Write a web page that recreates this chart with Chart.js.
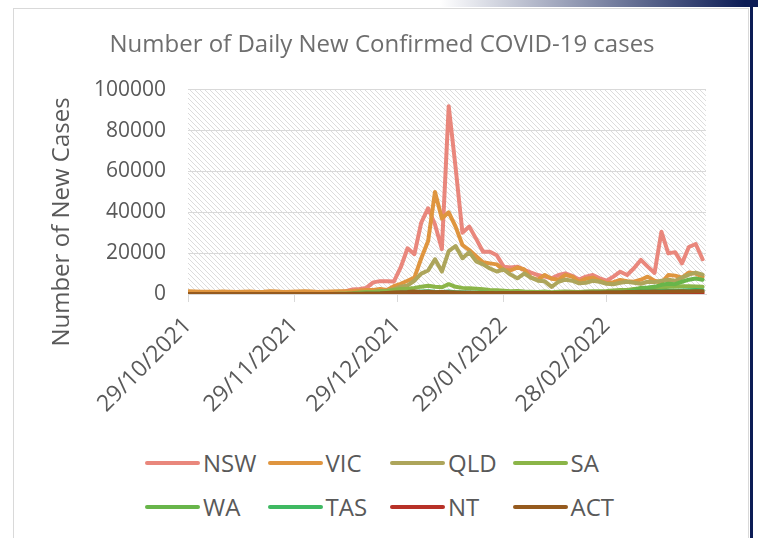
<!DOCTYPE html>
<html>
<head>
<meta charset="utf-8">
<script src="https://cdn.jsdelivr.net/npm/chart.js@4.4.1/dist/chart.umd.min.js"></script>
<style>
  html, body { margin: 0; padding: 0; background: #fff; }
  body { width: 758px; height: 538px; position: relative; overflow: hidden; font-family: "Open Sans", sans-serif; }
  .topbar { position: absolute; left: 0; top: 0; width: 758px; height: 7px;
            background: linear-gradient(to right, #fff 0px, #fff 440px, #0c1c55 745px); }
  .edge { position: absolute; left: 750px; top: 0; width: 3px; height: 538px; background: #0c1c55; }
  .card { position: absolute; left: 13px; top: 8px; width: 736px; height: 540px;
          border: 1px solid #d9d9d9; border-bottom: none; box-sizing: border-box; }
  #wrap { position: absolute; left: 0; top: 0; width: 758px; height: 430px; }
  #legend { position: absolute; left: 145px; top: 441px; display: grid;
            grid-template-columns: repeat(4, 122.5px); grid-auto-rows: 44px; }
  #legend .item { display: flex; align-items: center; }
  #legend .swatch { display: inline-block; width: 55px; height: 4px; border-radius: 2px; margin-right: 3px; }
  #legend .text { font-size: 24px; color: #595959; line-height: 1; }
</style>
</head>
<body>
<div class="topbar"></div>
<div class="card"></div>
<div class="edge"></div>
<div id="wrap"><canvas id="myChart" width="758" height="430"></canvas></div>
<div id="legend"></div>
<script>
// days since 29/10/2021, one reading every second day
const days = [0,2,4,6,8,10,12,14,16,18,20,22,24,26,28,30,32,34,36,38,
  40,42,44,46,48,50,52,54,56,58,60,62,64,66,68,70,72,74,76,78,
  80,82,84,86,88,90,92,94,96,98,100,102,104,106,108,110,112,114,116,118,
  120,122,124,126,128,130,132,134,136,138,140,142,144,146,148,150];

const tickDays = [0, 31, 61, 92, 122];
const tickLabels = ['29/10/2021', '29/11/2021', '29/12/2021', '29/01/2022', '28/02/2022'];

const states = ['NSW', 'VIC', 'QLD', 'SA', 'WA', 'TAS', 'NT', 'ACT'];
const colors = ['#e9877c', '#df953f', '#ada55b', '#8bb548', '#68b54a', '#3fb962', '#b73127', '#955a1e'];

const nsw = [270,250,290,260,200,230,220,180,200,190,
  250,230,180,270,250,200,260,240,300,280,
  350,500,800,1400,2200,2500,3000,5700,6300,6300,
  6100,13000,22400,19500,35000,42000,34000,22000,92000,62000,
  30000,33000,27000,20700,20700,19000,13400,13000,13400,11800,
  10500,9300,8500,7700,9300,10100,8900,7100,8500,9300,
  7700,6500,8500,10900,9300,12600,16700,13400,10300,30500,
  19900,20500,15000,23000,24500,17000];
const vic = [1350,1200,1100,1100,1000,1200,1100,1000,1100,1200,
  1000,1100,1300,1200,1000,1100,1200,1300,1200,1000,
  1100,1200,1300,1400,1500,1700,2000,2000,2500,2000,
  3800,5000,6500,8000,17500,26000,50000,37000,40000,33000,
  24000,21500,18500,15500,15000,14500,11800,11500,13000,12000,
  8000,7000,9300,7500,7000,9300,8500,6000,7500,8000,
  6500,5300,5800,6900,6300,6000,7000,8500,6500,5500,
  9300,9000,8000,10500,10000,8500];
const qld = [0,0,5,0,0,5,0,0,0,5,
  0,5,0,5,10,0,5,10,5,10,
  10,20,80,150,300,600,800,1000,1500,1600,
  2300,3600,4200,6500,10000,11500,17000,11000,21000,23500,
  17500,20500,16000,14500,12500,11000,12000,9500,7700,10000,
  8000,6500,6200,3500,6000,7000,6500,5200,5500,6500,
  6000,5000,4800,5500,6000,5500,5000,6000,5800,6500,
  7000,6500,8000,9500,10500,9500];
const sa = [0,0,0,0,0,0,0,0,0,0,
  0,0,5,0,0,5,0,5,10,10,
  30,50,100,200,400,700,1000,1000,1300,1500,
  2000,2500,2600,3000,3600,4000,3500,3300,4800,3500,
  3000,2800,2600,2300,2000,1800,1600,1300,1500,1200,
  1100,1000,1200,900,1100,1200,1100,1000,1200,1300,
  1400,1500,1700,1900,2000,2500,2700,2600,2900,3100,
  3500,3600,3800,3800,3700,3500];
const wa = [0,0,0,0,0,0,0,0,0,0,
  0,0,0,0,0,0,0,0,0,0,
  0,0,0,0,0,0,0,0,0,0,
  0,0,5,0,0,5,0,5,0,5,
  5,5,10,5,10,10,10,10,10,20,
  20,30,40,50,60,90,100,150,200,300,
  450,600,900,1000,1200,2000,3000,3200,3500,4500,
  5000,4800,6000,7000,7600,7000];
const tas = [0,0,0,0,0,0,0,0,0,0,
  0,0,0,0,0,0,0,0,0,0,
  0,0,0,10,20,50,100,150,200,300,
  500,700,900,1000,1200,1300,1100,1000,1200,900,
  800,700,650,600,550,500,450,500,400,450,
  400,350,400,450,400,500,550,500,600,650,
  700,750,800,900,1000,1100,1200,1300,1400,1500,
  1600,1500,1700,1800,1900,1800];
const nt = [0,0,0,0,5,10,5,20,30,10,
  5,5,0,0,0,0,5,0,0,0,
  0,0,0,0,0,5,10,10,10,20,
  40,80,150,300,400,500,600,550,600,500,
  450,400,450,350,400,300,350,400,350,400,
  450,400,350,400,500,450,400,450,400,350,
  400,450,500,450,400,500,550,500,450,500,
  550,500,600,550,500,550];
const act = [20,15,10,20,25,15,10,20,15,10,
  15,10,20,15,10,20,15,20,25,30,
  30,30,50,60,80,150,200,300,350,500,
  700,900,1000,1200,1000,1100,900,1000,800,700,
  650,600,550,500,450,400,450,400,350,400,
  450,400,500,550,500,600,650,600,700,750,
  700,800,900,850,950,1000,1100,1050,1200,1100,
  1250,1200,1300,1250,1350,1300];

const series = [nsw, vic, qld, sa, wa, tas, nt, act];
const grey = '#595959';
const fontFamily = '"Open Sans", sans-serif';

// small diagonal hatch tile for the plot area
const tile = document.createElement('canvas');
tile.width = 5; tile.height = 5;
const tg = tile.getContext('2d');
tg.fillStyle = '#dcdcdc';
for (let i = 0; i < 5; i++) tg.fillRect(i, i, 1, 1);

const plotBack = {
  id: 'plotBack',
  beforeDraw(chart) {
    const { ctx, chartArea: a } = chart;
    ctx.save();
    ctx.fillStyle = ctx.createPattern(tile, 'repeat');
    ctx.fillRect(a.left, a.top, a.right - a.left, a.bottom - a.top);
    ctx.restore();
  }
};

const yTitle = {
  id: 'yTitle',
  afterDraw(chart) {
    const ctx = chart.ctx;
    ctx.save();
    ctx.translate(62, 222);
    ctx.rotate(-Math.PI / 2);
    ctx.font = '24px ' + fontFamily;
    ctx.fillStyle = grey;
    ctx.textAlign = 'center';
    ctx.textBaseline = 'middle';
    ctx.fillText('Number of New Cases', 0, 0);
    ctx.restore();
  }
};

const htmlLegend = {
  id: 'htmlLegend',
  afterUpdate(chart) {
    const box = document.getElementById('legend');
    box.innerHTML = '';
    chart.data.datasets.forEach(ds => {
      const item = document.createElement('div');
      item.className = 'item';
      const sw = document.createElement('span');
      sw.className = 'swatch';
      sw.style.background = ds.borderColor;
      const tx = document.createElement('span');
      tx.className = 'text';
      tx.textContent = ds.label;
      item.append(sw, tx);
      box.append(item);
    });
  }
};

const ctx = document.getElementById('myChart').getContext('2d');
new Chart(ctx, {
  type: 'line',
  data: {
    datasets: states.map((name, i) => ({
      label: name,
      data: series[i].map((v, k) => ({ x: days[k], y: v })),
      borderColor: colors[i],
      backgroundColor: colors[i],
      borderWidth: 4,
      pointRadius: 0,
      tension: 0,
      borderJoinStyle: 'round',
      borderCapStyle: 'round',
      order: states.length - i
    }))
  },
  options: {
    responsive: false,
    animation: false,
    devicePixelRatio: 1,
    layout: { padding: { left: 58, right: 52, top: 0, bottom: 0 } },
    plugins: {
      legend: { display: false },
      tooltip: { enabled: false },
      title: {
        display: true,
        text: 'Number of Daily New Confirmed COVID-19 cases',
        color: '#6e6e6e',
        font: { family: fontFamily, size: 24, weight: 'normal' },
        padding: { top: 31, bottom: 30 }
      }
    },
    scales: {
      x: {
        type: 'linear',
        min: 0,
        max: 151,
        afterBuildTicks: s => { s.ticks = tickDays.map(v => ({ value: v })); },
        afterFit: s => { s.height = 136; },
        ticks: {
          autoSkip: false,
          minRotation: 45,
          maxRotation: 45,
          padding: 10,
          color: grey,
          font: { family: fontFamily, size: 23 },
          callback: (v, i) => tickLabels[i]
        },
        grid: { drawOnChartArea: false, color: '#d9d9d9', tickLength: 8 },
        border: { color: '#d9d9d9' }
      },
      y: {
        min: 0,
        max: 100000,
        afterFit: s => { s.width = 130; },
        ticks: {
          stepSize: 20000,
          padding: 22,
          color: grey,
          font: { family: fontFamily, size: 21 },
          callback: v => String(v)
        },
        grid: { color: '#d9d9d9', drawTicks: false },
        border: { display: false }
      }
    }
  },
  plugins: [plotBack, yTitle, htmlLegend]
});
</script>
</body>
</html>
